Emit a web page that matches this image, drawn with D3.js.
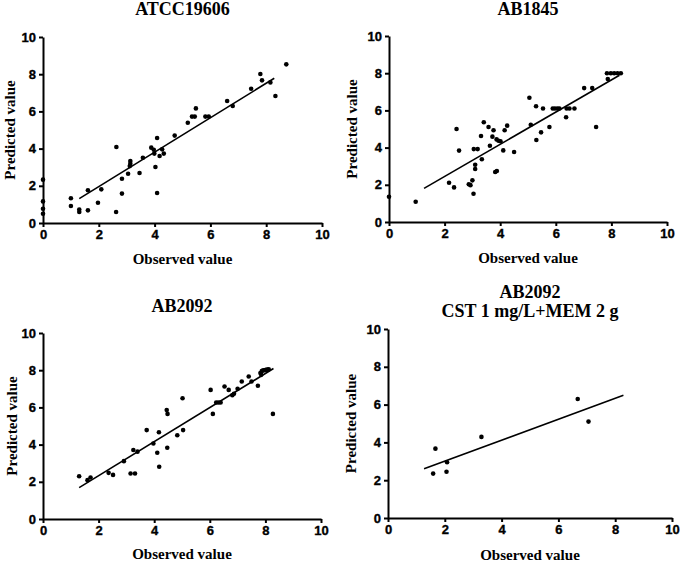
<!DOCTYPE html>
<html>
<head>
<meta charset="utf-8">
<script src="https://cdn.jsdelivr.net/npm/d3@7"></script>
<style>
  body { margin: 0; background: #fff; }
</style>
</head>
<body>
<svg id="viz"></svg>
<script>
var width = 680;
var height = 562;

// ATCC19606
var atccObserved = [0, 0, 0, 0, 1.0, 1.0, 1.3, 1.3, 1.61, 1.61, 1.97, 2.09, 2.62, 2.63, 2.83, 2.83,
    3.05, 3.11, 3.13, 3.13, 3.46, 3.58, 3.88, 3.97, 3.99, 4.03, 4.09, 4.09, 4.18, 4.27, 4.33, 4.72,
    5.19, 5.34, 5.44, 5.48, 5.82, 5.94, 6.6, 6.8, 7.46, 7.79, 7.85, 8.15, 8.33, 8.72];
var atccPredicted = [2.33, 1.16, 0.77, 0.5, 1.33, 0.91, 0.72, 0.59, 1.76, 0.68, 1.09, 1.81, 0.59, 4.09, 2.38, 1.58,
    2.65, 3.06, 3.33, 3.19, 2.69, 3.51, 4.05, 3.94, 3.73, 3.01, 4.57, 1.61, 3.6, 3.96, 3.73, 4.7,
    5.39, 5.72, 5.72, 6.16, 5.72, 5.72, 6.56, 6.29, 7.22, 8.01, 7.67, 7.56, 6.83, 8.53];
var atccFit = [[1.3, 1.31], [8.29, 7.78]];

// AB1845
var ab1845Observed = [0, 0.96, 2.16, 2.34, 2.43, 2.52, 2.87, 2.93, 3.0, 3.05, 3.04, 3.1, 3.1, 3.19, 3.31, 3.34,
    3.41, 3.58, 3.63, 3.72, 3.76, 3.82, 3.88, 3.87, 3.94, 4.01, 4.11, 4.16, 4.25, 4.5, 5.05, 5.1,
    5.29, 5.3, 5.47, 5.54, 5.77, 5.89, 5.97, 6.06, 6.13, 6.39, 6.49, 6.67, 6.37, 7.02, 7.31, 7.45,
    7.87, 7.84, 7.98, 8.1, 8.22, 8.34];
var ab1845Predicted = [1.36, 1.09, 2.11, 1.86, 5.0, 3.84, 2.03, 1.98, 2.24, 3.92, 1.52, 3.08, 2.85, 3.92, 4.62, 3.37,
    5.36, 5.11, 4.1, 4.59, 4.93, 2.69, 2.74, 4.44, 4.37, 4.34, 3.85, 4.93, 5.18, 3.76, 6.68, 5.23,
    6.22, 4.41, 4.82, 6.1, 5.11, 6.1, 6.1, 6.1, 6.1, 6.1, 6.1, 6.1, 5.63, 7.2, 7.2, 5.11,
    7.69, 8.0, 8.0, 8.0, 8.0, 8.0];
var ab1845Fit = [[1.26, 1.81], [8.29, 7.89]];

// AB2092
var ab2092Observed = [1.3, 1.6, 1.71, 2.36, 2.52, 2.91, 3.15, 3.31, 3.25, 3.4, 3.73, 3.97, 4.11, 4.17, 4.18, 4.45,
    4.48, 4.47, 4.83, 5.02, 5.04, 6.03, 6.11, 6.23, 6.31, 6.39, 6.53, 6.68, 6.81, 6.87, 7.0, 7.15,
    7.4, 7.5, 7.73, 7.82, 7.85, 7.87, 7.92, 7.97, 8.02, 8.07, 8.12, 8.27];
var ab2092Predicted = [2.3, 2.09, 2.23, 2.48, 2.37, 3.11, 2.45, 2.45, 3.71, 3.62, 4.78, 4.06, 3.56, 4.66, 2.81, 5.86,
    5.65, 3.83, 4.5, 6.49, 4.78, 6.94, 5.65, 6.26, 6.26, 6.26, 7.12, 6.94, 6.65, 6.73, 7.0, 7.39,
    7.66, 7.39, 7.16, 7.85, 7.75, 7.95, 8.0, 8.0, 8.02, 8.03, 8.05, 5.65];
var ab2092Fit = [[1.3, 1.69], [8.29, 8.09]];

// AB2092, CST 1 mg/L + MEM 2 g
var comboObserved = [1.59, 1.67, 2.06, 2.08, 3.29, 6.68, 7.06];
var comboPredicted = [2.35, 3.67, 2.45, 2.95, 4.29, 6.3, 5.1];
var comboFit = [[1.27, 2.61], [8.29, 6.49]];

var axisTicks = [0, 2, 4, 6, 8, 10];

var panels = [
    { title: ["ATCC19606"], obs: atccObserved, pred: atccPredicted, fit: atccFit,
      x0: 43, x1: 322, y0: 223, y1: 37, titleY: [15], xlabY: 264, ylabX: 15 },
    { title: ["AB1845"], obs: ab1845Observed, pred: ab1845Predicted, fit: ab1845Fit,
      x0: 389, x1: 667, y0: 222, y1: 36, titleY: [15], xlabY: 263, ylabX: 357 },
    { title: ["AB2092"], obs: ab2092Observed, pred: ab2092Predicted, fit: ab2092Fit,
      x0: 43, x1: 321, y0: 519, y1: 333, titleY: [312], xlabY: 559, ylabX: 17 },
    { title: ["AB2092", "CST 1 mg/L+MEM 2 g"], obs: comboObserved, pred: comboPredicted, fit: comboFit,
      x0: 388, x1: 672, y0: 518, y1: 329, titleY: [298, 317], xlabY: 560, ylabX: 356 }
];

var serif = '"Liberation Serif", "Times New Roman", serif';
var sans = '"Liberation Sans", Arial, sans-serif';

var svg = d3.select("#viz")
    .attr("width", width)
    .attr("height", height);

panels.forEach(function(p) {
    var x = d3.scaleLinear().domain([0, 10]).range([p.x0, p.x1]);
    var y = d3.scaleLinear().domain([0, 10]).range([p.y0, p.y1]);
    var g = svg.append("g");

    var xAxis = g.append("g")
        .attr("transform", "translate(0," + p.y0 + ")")
        .call(d3.axisBottom(x).tickValues(axisTicks).tickSize(4).tickPadding(3).tickSizeOuter(0));
    var yAxis = g.append("g")
        .attr("transform", "translate(" + p.x0 + ",0)")
        .call(d3.axisLeft(y).tickValues(axisTicks).tickSize(4).tickPadding(3).tickSizeOuter(0));

    [xAxis, yAxis].forEach(function(a) {
        a.select(".domain").attr("stroke", "#000").attr("stroke-width", 2);
        a.selectAll(".tick line").attr("stroke", "#000").attr("stroke-width", 2);
        a.selectAll(".tick text")
            .attr("fill", "#000")
            .attr("stroke", "#000")
            .attr("stroke-width", 0.35)
            .style("font-family", sans)
            .style("font-weight", "bold")
            .style("font-size", "13px");
    });

    var cx = (p.x0 + p.x1) / 2;
    p.title.forEach(function(t, i) {
        g.append("text")
            .attr("x", cx).attr("y", p.titleY[i])
            .attr("text-anchor", "middle")
            .style("font-family", serif).style("font-weight", "bold").style("font-size", "18px")
            .text(t);
    });

    g.append("text")
        .attr("x", cx).attr("y", p.xlabY)
        .attr("text-anchor", "middle")
        .style("font-family", serif).style("font-weight", "bold").style("font-size", "15px")
        .text("Observed value");

    g.append("text")
        .attr("transform", "translate(" + p.ylabX + "," + ((p.y0 + p.y1) / 2) + ") rotate(-90)")
        .attr("text-anchor", "middle")
        .style("font-family", serif).style("font-weight", "bold").style("font-size", "15px")
        .text("Predicted value");

    var line = d3.line()
        .x(function(d) { return x(d[0]); })
        .y(function(d) { return y(d[1]); });

    g.append("path")
        .attr("d", line(p.fit))
        .attr("fill", "none")
        .attr("stroke", "#000")
        .attr("stroke-width", 1.6);

    var pts = p.obs.map(function(v, i) { return [v, p.pred[i]]; });
    g.selectAll("circle")
        .data(pts)
        .enter().append("circle")
        .attr("cx", function(d) { return x(d[0]); })
        .attr("cy", function(d) { return y(d[1]); })
        .attr("r", 2.3)
        .attr("fill", "#000");
});
</script>
</body>
</html>
